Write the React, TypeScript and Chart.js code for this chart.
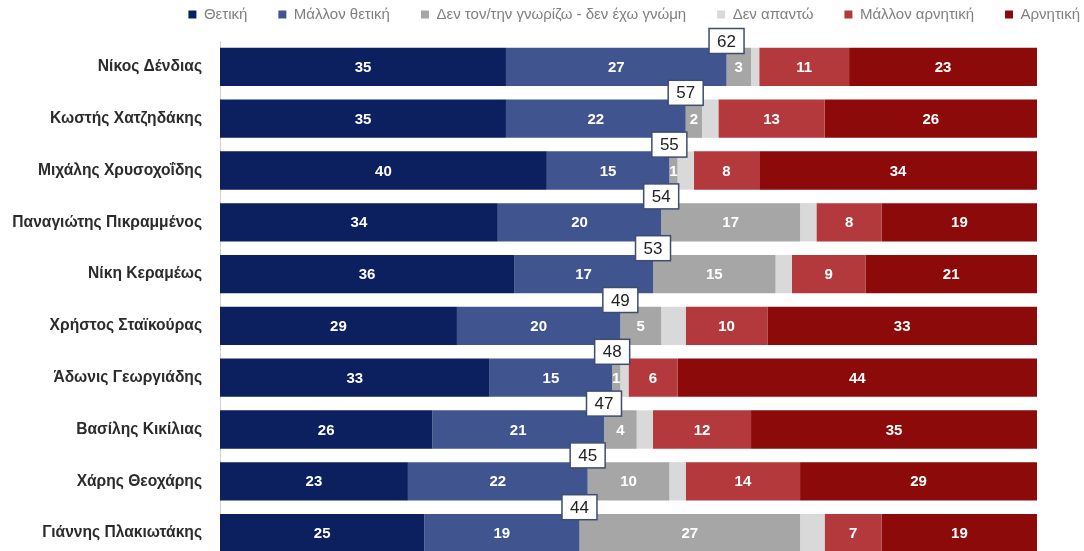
import React, { useEffect, useRef } from "react";
import { Chart, registerables } from "chart.js";

Chart.register(...registerables);

const categories = [
  "Νίκος Δένδιας",
  "Κωστής Χατζηδάκης",
  "Μιχάλης Χρυσοχοΐδης",
  "Παναγιώτης Πικραμμένος",
  "Νίκη Κεραμέως",
  "Χρήστος Σταϊκούρας",
  "Άδωνις Γεωργιάδης",
  "Βασίλης Κικίλιας",
  "Χάρης Θεοχάρης",
  "Γιάννης Πλακιωτάκης",
];

const positive = [35, 35, 40, 34, 36, 29, 33, 26, 23, 25];
const ratherPositive = [27, 22, 15, 20, 17, 20, 15, 21, 22, 19];
const dontKnow = [3, 2, 1, 17, 15, 5, 1, 4, 10, 27];
const noAnswer = [1, 2, 2, 2, 2, 3, 1, 2, 2, 3];
const ratherNegative = [11, 13, 8, 8, 9, 10, 6, 12, 14, 7];
const negative = [23, 26, 34, 19, 21, 33, 44, 35, 29, 19];
const positiveTotals = [62, 57, 55, 54, 53, 49, 48, 47, 45, 44];

const seriesNames = [
  "Θετική",
  "Μάλλον θετική",
  "Δεν τον/την γνωρίζω - δεν έχω γνώμη",
  "Δεν απαντώ",
  "Μάλλον αρνητική",
  "Αρνητική",
];
const seriesColors = ["#0c1f5e", "#40558f", "#a6a6a6", "#d9d9d9", "#b4393c", "#8c0a0a"];
const seriesValues = [positive, ratherPositive, dontKnow, noAnswer, ratherNegative, negative];

const FONT = "'Liberation Sans', Arial, sans-serif";

const labelPlugin = {
  id: "segLabels",
  afterDatasetsDraw(chart: any) {
    const ctx = chart.ctx;
    ctx.save();
    ctx.font = `bold 15px ${FONT}`;
    ctx.fillStyle = "#ffffff";
    ctx.textAlign = "center";
    ctx.textBaseline = "middle";
    chart.data.datasets.forEach((ds: any, di: number) => {
      if (di === 3) return;
      const meta = chart.getDatasetMeta(di);
      meta.data.forEach((el: any, i: number) => {
        const p = el.getProps(["x", "base", "y"], true);
        ctx.fillText(String(ds.data[i]), (p.x + p.base) / 2, p.y + 1);
      });
    });
    const xs = chart.scales.x;
    const ys = chart.scales.y;
    const step = ys.getPixelForValue(1) - ys.getPixelForValue(0);
    ctx.font = `17px ${FONT}`;
    positiveTotals.forEach((t, i) => {
      const cx = xs.getPixelForValue(positive[i] + ratherPositive[i]);
      const cy = ys.getPixelForValue(i) - step / 2;
      const w = 35;
      const h = 25;
      ctx.fillStyle = "#ffffff";
      ctx.fillRect(cx - w / 2, cy - h / 2, w, h);
      ctx.strokeStyle = "#3e4c6e";
      ctx.lineWidth = 1.5;
      ctx.strokeRect(cx - w / 2, cy - h / 2, w, h);
      ctx.fillStyle = "#222222";
      ctx.fillText(String(t), cx, cy + 1);
    });
    ctx.restore();
  },
};

export default function App() {
  const ref = useRef<HTMLCanvasElement>(null);
  useEffect(() => {
    if (!ref.current) return;
    const chart = new Chart(ref.current, {
      type: "bar",
      data: {
        labels: categories,
        datasets: seriesNames.map((n, i) => ({
          label: n,
          data: seriesValues[i],
          backgroundColor: seriesColors[i],
          borderWidth: 0,
          barPercentage: 0.74,
          categoryPercentage: 1,
        })),
      },
      options: {
        indexAxis: "y",
        responsive: true,
        maintainAspectRatio: false,
        animation: false,
        layout: { padding: { top: -24, bottom: 0, left: 0, right: -27 } },
        plugins: {
          legend: {
            position: "top",
            align: "end",
            labels: {
              boxWidth: 8,
              boxHeight: 8,
              padding: 31,
              color: "#808080",
              font: { size: 15, family: FONT },
            },
          },
          tooltip: { enabled: false },
        },
        scales: {
          x: {
            stacked: true,
            min: 0,
            max: 100,
            display: false,
          },
          xt: {
            type: "linear",
            position: "top",
            display: true,
            grid: { display: false },
            border: { display: false },
            ticks: { display: false },
            afterFit: (s: any) => {
              s.height = 9;
            },
          },
          y: {
            stacked: true,
            grid: { display: false },
            border: { display: true, color: "#d0d0d0" },
            ticks: {
              color: "#2b2b2b",
              padding: 10,
              font: { size: 15.6, weight: "bold", family: FONT },
            },
            afterFit: (s: any) => {
              s.width = 220;
              s.paddingTop = 0;
              s.paddingBottom = 0;
            },
          },
          yr: {
            type: "linear",
            position: "right",
            display: true,
            grid: { display: false },
            border: { display: false },
            ticks: { display: false },
            afterFit: (s: any) => {
              s.width = 74;
              s.paddingTop = 0;
              s.paddingBottom = 0;
            },
          },
        },
      },
      plugins: [labelPlugin],
    });
    return () => chart.destroy();
  }, []);
  return (
    <div
      style={{
        position: "fixed",
        left: 0,
        top: 0,
        width: 1084,
        height: 551,
        overflow: "hidden",
        background: "#ffffff",
      }}
    >
      <div style={{ position: "relative", width: 1084, height: 559 }}>
        <canvas ref={ref} />
      </div>
    </div>
  );
}
